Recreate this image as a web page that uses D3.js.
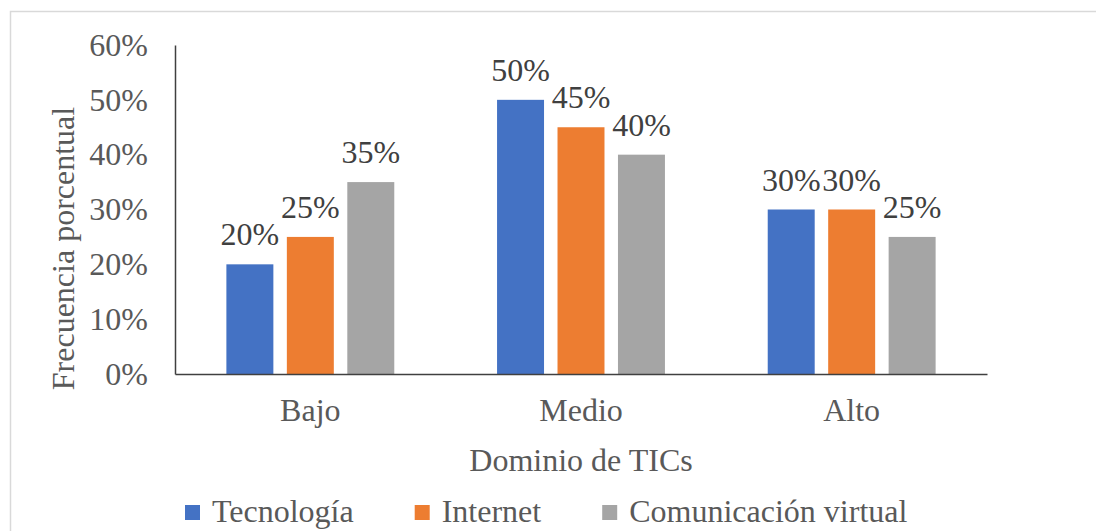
<!DOCTYPE html>
<html><head><meta charset="utf-8">
<script src="https://cdn.jsdelivr.net/npm/d3@7"></script>
<style>html,body{margin:0;padding:0;background:#fff;}svg{display:block;}text{font-family:"Liberation Serif","Times New Roman",serif;}</style>
</head><body>
<svg id="c" width="1096" height="531"></svg>
<script>
const categories = ["Bajo", "Medio", "Alto"];
const seriesNames = ["Tecnología", "Internet", "Comunicación virtual"];
const tecnologia = [0.20, 0.50, 0.30];
const internet = [0.25, 0.45, 0.30];
const comunicacion = [0.35, 0.40, 0.25];
const yTicks = [0, 0.1, 0.2, 0.3, 0.4, 0.5, 0.6];
const colors = ["#4472c4", "#ed7d31", "#a5a5a5"];
const xTitle = "Dominio de TICs";
const yTitle = "Frecuencia porcentual";

(function () {
const series = [tecnologia, internet, comunicacion];
const FONT = "Liberation Serif";
const FS = 32;
const svg = d3.select("#c");

svg.append("rect").attr("x", 10.5).attr("y", 11.5).attr("width", 1100).attr("height", 540)
  .attr("fill", "#fff").attr("stroke", "#d9d9d9").attr("stroke-width", 1.5);

const pL = 175, pR = 987, pT = 45, pB = 374;
const x = d3.scaleBand().domain(categories).range([pL, pR]);
const xi = d3.scaleBand().domain(d3.range(3)).range([0, x.bandwidth()]).paddingInner(0.223).paddingOuter(0.85);
const y = d3.scaleLinear().domain([0, 0.6]).range([pB, pT]);

const fmt = d3.format(".0%");

const g = svg.append("g");
categories.forEach((c, ci) => {
  series.forEach((s, si) => {
    const v = s[ci];
    g.append("rect")
      .attr("x", x(c) + xi(si))
      .attr("y", y(v))
      .attr("width", xi.bandwidth())
      .attr("height", y(0) - y(v))
      .attr("fill", colors[si]);
    g.append("text")
      .attr("x", x(c) + xi(si) + xi.bandwidth() / 2)
      .attr("y", y(v) - 19)
      .attr("text-anchor", "middle")
      .attr("font-family", FONT).attr("font-size", FS)
      .attr("fill", "#404040")
      .text(fmt(v));
  });
});

const yAxis = d3.axisLeft(y).tickValues(yTicks).tickFormat(fmt).tickSize(0).tickPadding(27);
const ya = svg.append("g").attr("transform", `translate(${pL},0)`).call(yAxis);
ya.attr("font-family", FONT);
ya.select(".domain").attr("stroke", "#404040").attr("stroke-width", 1.5);
ya.selectAll("text").attr("font-family", FONT).attr("font-size", FS).attr("fill", "#595959");

const xAxis = d3.axisBottom(x).tickSize(0).tickPadding(24);
const xa = svg.append("g").attr("transform", `translate(0,${pB})`).call(xAxis);
xa.attr("font-family", FONT);
xa.select(".domain").attr("stroke", "#404040").attr("stroke-width", 1.5);
xa.selectAll("text").attr("font-family", FONT).attr("font-size", FS).attr("fill", "#595959");

svg.append("text").attr("x", (pL + pR) / 2).attr("y", 471)
  .attr("text-anchor", "middle").attr("font-family", FONT).attr("font-size", FS)
  .attr("fill", "#595959").text(xTitle);
svg.append("text").attr("transform", `translate(74,${(pT + pB) / 2 + 39}) rotate(-90)`)
  .attr("text-anchor", "middle").attr("font-family", FONT).attr("font-size", FS)
  .attr("fill", "#595959").text(yTitle);

const lg = svg.append("g");
let lx = 185;
seriesNames.forEach((n, i) => {
  lg.append("rect").attr("x", lx).attr("y", 505).attr("width", 15).attr("height", 15).attr("fill", colors[i]);
  const t = lg.append("text").attr("x", lx + 27).attr("y", 522)
    .attr("font-family", FONT).attr("font-size", FS).attr("fill", "#595959").text(n);
  lx += 27 + t.node().getComputedTextLength() + 61;
});
})();
</script>
</body></html>
